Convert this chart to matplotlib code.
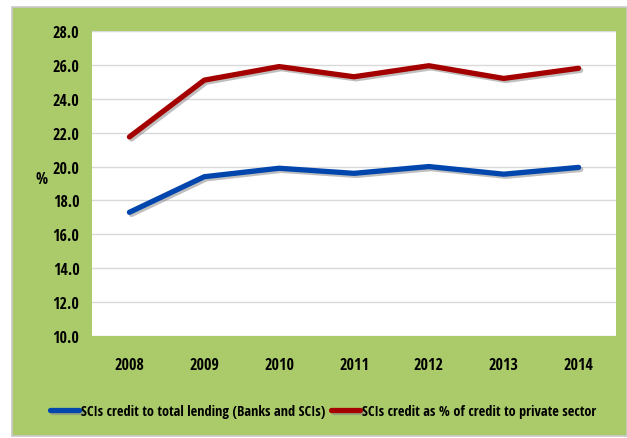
import matplotlib.pyplot as plt
import matplotlib.patheffects as pe
from matplotlib.patches import Rectangle

years = ['2008', '2009', '2010', '2011', '2012', '2013', '2014']
sci_total_lending = [17.3, 19.4, 19.9, 19.6, 20.0, 19.55, 19.95]
sci_private_credit = [21.75, 25.1, 25.9, 25.3, 25.95, 25.2, 25.8]
yticks = [10, 12, 14, 16, 18, 20, 22, 24, 26, 28]

plt.rcParams['font.family'] = ['Open Sans Condensed', 'DejaVu Sans']
plt.rcParams['font.weight'] = 'bold'

green = '#ABCB6B'
blue = '#0046AD'
red = '#A50000'

fig = plt.figure(figsize=(6.27, 4.39), dpi=100, facecolor='white')
# green chart area with thin gray frame
fig.patches.append(Rectangle((12 / 627, 0.004), 1 - 12 / 627, 1 - 8 / 439 - 0.004,
                             transform=fig.transFigure, facecolor=green,
                             edgecolor='#C8C8C8', linewidth=1.2, zorder=-1))

ax = fig.add_axes([92 / 627, 1 - 337 / 439, 524 / 627, 305 / 439])
ax.set_facecolor('white')

x = range(len(years))
shadow = [pe.SimpleLineShadow(offset=(1.5, -1.5), shadow_color='gray', alpha=0.5), pe.Normal()]
l1, = ax.plot(x, sci_total_lending, color=blue, linewidth=3.8, solid_capstyle='round',
              path_effects=shadow, label='SCIs credit to total lending (Banks and SCIs)', zorder=3)
l2, = ax.plot(x, sci_private_credit, color=red, linewidth=3.8, solid_capstyle='round',
              path_effects=shadow, label='SCIs credit as % of credit to private sector', zorder=3)

ax.set_xlim(-0.5, len(years) - 0.5)
ax.set_ylim(10, 28)
ax.set_yticks(yticks)
ax.set_yticklabels(['%.1f' % v for v in yticks], fontsize=11.5, fontweight='bold')
ax.set_xticks(list(x))
ax.set_xticklabels(years, fontsize=11.5, fontweight='bold')
ax.tick_params(length=0)
ax.tick_params(axis='x', pad=15)
ax.tick_params(axis='y', pad=9)
ax.grid(axis='y', color='#D9D9D9', linewidth=1)
ax.set_axisbelow(True)
for s in ax.spines.values():
    s.set_visible(False)
ax.set_ylabel('%', rotation=0, fontsize=11.5, fontweight='bold')
ax.yaxis.set_label_coords(-0.097, 0.49)

leg = fig.legend(handles=[l1, l2], loc='center', bbox_to_anchor=(323 / 627, 1 - 412 / 439),
                 ncol=2, frameon=False, fontsize=10.4, handlelength=2.0, handletextpad=0.15,
                 columnspacing=0.4)
for t in leg.get_texts():
    t.set_fontweight('bold')

plt.savefig('out.png', dpi=100, facecolor='white')
